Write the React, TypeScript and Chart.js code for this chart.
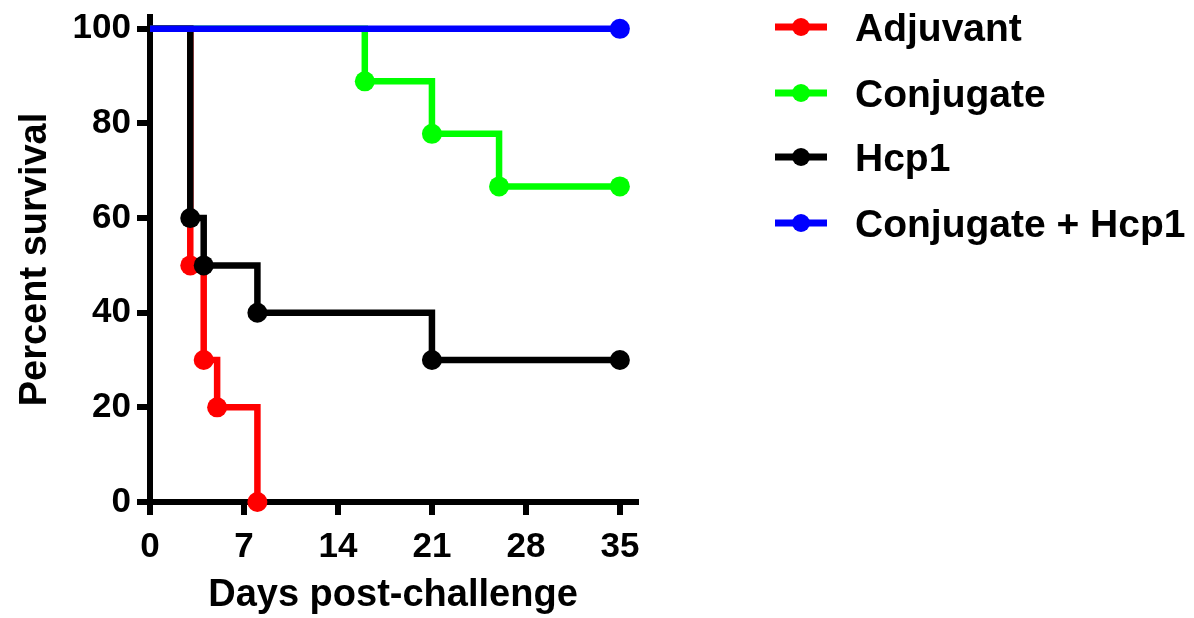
import React, { useEffect, useRef } from "react";
import { Chart, registerables } from "chart.js";

Chart.register(...registerables);

const seriesLabels = ["Adjuvant", "Conjugate", "Hcp1", "Conjugate + Hcp1"];
const seriesColors = ["#FF0000", "#00FF00", "#000000", "#0000FF"];

const adjuvantDays = [0, 3, 4, 5, 8];
const adjuvantSurvival = [100, 50, 30, 20, 0];

const conjugateDays = [0, 16, 21, 26, 35];
const conjugateSurvival = [100, 88.9, 77.8, 66.7, 66.7];

const hcp1Days = [0, 3, 4, 8, 21, 35];
const hcp1Survival = [100, 60, 50, 40, 30, 30];

const comboDays = [0, 35];
const comboSurvival = [100, 100];

const xTicks = [0, 7, 14, 21, 28, 35];
const yTicks = [0, 20, 40, 60, 80, 100];

const FONT = "'Liberation Sans', Arial, Helvetica, sans-serif";

function pts(xs: number[], ys: number[]) {
  return xs.map((x, i) => ({ x, y: ys[i] }));
}

const legendPlugin = {
  id: "customLegend",
  afterDraw(chart: any) {
    const ctx = chart.ctx;
    const ds = chart.data.datasets;
    ctx.save();
    const rows = [27, 93, 157, 223];
    ds.forEach((d: any, i: number) => {
      const y = rows[i];
      ctx.strokeStyle = d.borderColor;
      ctx.lineWidth = 7;
      ctx.beginPath();
      ctx.moveTo(775, y);
      ctx.lineTo(827, y);
      ctx.stroke();
      ctx.fillStyle = d.borderColor;
      ctx.beginPath();
      ctx.arc(801, y, 9, 0, Math.PI * 2);
      ctx.fill();
      ctx.fillStyle = "#000";
      ctx.font = `bold 39px ${FONT}`;
      ctx.textBaseline = "alphabetic";
      ctx.textAlign = "left";
      ctx.fillText(d.label, 855, y + 14);
    });
    ctx.restore();
  },
};

export default function App() {
  const ref = useRef<HTMLCanvasElement | null>(null);
  useEffect(() => {
    if (!ref.current) return;
    const mk = (i: number, xs: number[], ys: number[], order: number) => ({
      label: seriesLabels[i],
      data: pts(xs, ys),
      borderColor: seriesColors[i],
      backgroundColor: seriesColors[i],
      pointBackgroundColor: seriesColors[i],
      pointBorderColor: seriesColors[i],
      borderWidth: 6.5,
      pointRadius: xs.map((_, k) => (k === 0 ? 0 : 10)),
      pointHoverRadius: xs.map((_, k) => (k === 0 ? 0 : 10)),
      pointBorderWidth: 0,
      stepped: "before" as const,
      fill: false,
      clip: false as any,
      order,
      borderJoinStyle: "miter" as const,
      borderCapStyle: "butt" as const,
    });
    const chart = new Chart(ref.current, {
      type: "line",
      data: {
        datasets: [
          mk(0, adjuvantDays, adjuvantSurvival, 3),
          mk(1, conjugateDays, conjugateSurvival, 2),
          mk(2, hcp1Days, hcp1Survival, 1),
          mk(3, comboDays, comboSurvival, 0),
        ],
      },
      options: {
        animation: false,
        responsive: false,
        events: [],
        layout: { padding: { top: 17, right: 558, left: 0, bottom: 0 } },
        plugins: {
          legend: { display: false },
          tooltip: { enabled: false },
        },
        scales: {
          x: {
            type: "linear",
            min: 0,
            max: 36.2,
            border: { display: true, color: "#000", width: 6 },
            grid: {
              drawOnChartArea: false,
              drawTicks: true,
              tickLength: 13,
              lineWidth: 6,
              color: "#000",
            },
            ticks: {
              color: "#000",
              font: { family: FONT, size: 35, weight: "bold" },
              padding: 11,
              maxRotation: 0,
              autoSkip: false,
            },
            afterBuildTicks: (s: any) => {
              s.ticks = xTicks.map((v) => ({ value: v }));
            },
            afterFit: (s: any) => {
              s.height = 116;
              s.paddingLeft = 0;
              s.paddingRight = 0;
            },
            title: {
              display: true,
              text: "Days post-challenge",
              color: "#000",
              font: { family: FONT, size: 38, weight: "bold" },
              padding: { top: 0, bottom: 0 },
            },
          },
          y: {
            type: "linear",
            min: 0,
            max: 102.5,
            border: { display: true, color: "#000", width: 6 },
            grid: {
              drawOnChartArea: false,
              drawTicks: true,
              tickLength: 13,
              lineWidth: 6,
              color: "#000",
            },
            ticks: {
              color: "#000",
              font: { family: FONT, size: 35, weight: "bold" },
              padding: 6,
              autoSkip: false,
            },
            afterBuildTicks: (s: any) => {
              s.ticks = yTicks.map((v) => ({ value: v }));
            },
            afterFit: (s: any) => {
              s.width = 150;
              s.paddingTop = 0;
              s.paddingBottom = 0;
            },
            title: {
              display: true,
              text: "Percent survival",
              color: "#000",
              font: { family: FONT, size: 38, weight: "bold" },
              padding: { top: 13, bottom: 0 },
            },
          },
        },
      },
      plugins: [legendPlugin],
    });
    return () => chart.destroy();
  }, []);
  return (
    <div style={{ position: "fixed", left: 0, top: 0, width: 1194, height: 618, background: "#fff" }}>
      <canvas ref={ref} width={1194} height={618} style={{ display: "block" }} />
    </div>
  );
}
